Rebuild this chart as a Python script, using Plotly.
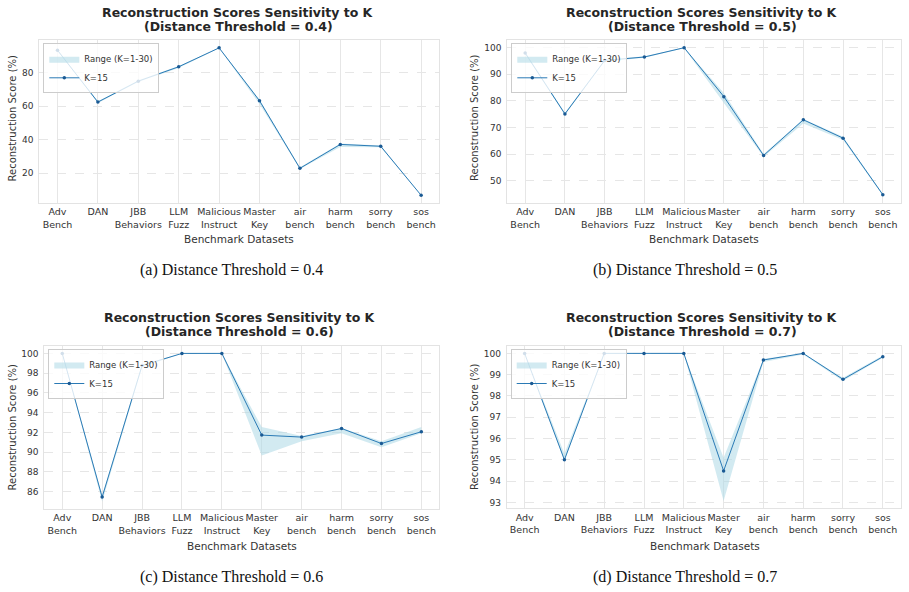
import plotly.graph_objects as go

categories = ["Adv<br>Bench", "DAN", "JBB<br>Behaviors", "LLM<br>Fuzz", "Malicious<br>Instruct",
              "Master<br>Key", "air<br>bench", "harm<br>bench", "sorry<br>bench", "sos<br>bench"]

thresholds = ["0.4", "0.5", "0.6", "0.7"]
captions = ["(a) Distance Threshold = 0.4", "(b) Distance Threshold = 0.5",
            "(c) Distance Threshold = 0.6", "(d) Distance Threshold = 0.7"]

k15_04 = [93.5, 62.5, 75.0, 83.6, 94.9, 63.3, 22.9, 37.2, 36.1, 6.8]
low_04 = [93.0, 62.0, 74.5, 82.8, 94.6, 61.3, 22.5, 35.6, 35.5, 6.6]
high_04 = [94.0, 63.0, 75.5, 84.0, 95.0, 64.0, 23.5, 37.7, 36.6, 7.0]

k15_05 = [98.0, 75.1, 95.2, 96.5, 100.0, 81.6, 59.5, 72.9, 66.0, 44.75]
low_05 = [97.5, 74.8, 94.8, 96.2, 99.8, 79.2, 59.0, 71.5, 65.3, 44.4]
high_05 = [98.5, 75.5, 95.5, 96.8, 100.0, 83.0, 60.0, 73.2, 66.5, 45.0]

k15_06 = [100.0, 85.46, 98.77, 100.0, 100.0, 91.73, 91.53, 92.40, 90.88, 92.07]
low_06 = [100.0, 85.0, 98.6, 100.0, 100.0, 89.66, 91.1, 91.93, 90.5, 91.93]
high_06 = [100.0, 85.6, 98.9, 100.0, 100.0, 92.54, 91.65, 92.45, 91.1, 92.54]

k15_07 = [100.0, 95.0, 100.0, 100.0, 100.0, 94.48, 99.69, 100.0, 98.78, 99.84]
low_07 = [100.0, 94.95, 100.0, 100.0, 100.0, 93.07, 99.6, 99.95, 98.7, 99.8]
high_07 = [100.0, 95.3, 100.0, 100.0, 100.0, 95.1, 99.75, 100.0, 98.85, 99.9]

y_dticks = [20, 10, 2, 1]

panels = [(k15_04, low_04, high_04), (k15_05, low_05, high_05),
          (k15_06, low_06, high_06), (k15_07, low_07, high_07)]

W, H = 909, 592
# plot-area pixel boxes: x0, x1, y0(top), y1(bottom)
boxes = [(39.3, 439.3, 40.3, 203.0), (507.3, 900.7, 40.3, 203.0),
         (44.3, 439.3, 346.0, 509.0), (506.7, 900.7, 346.0, 508.3)]
title_pos = [(238, 12, 26), (702, 12, 26), (240, 317, 331.5), (702, 317, 331.5)]
ytitle_pos = [(11.5, 118), (474, 118), (11.5, 427), (474, 427)]
xtitle_pos = [(239, 239.5), (704, 239.5), (241.5, 546), (704.5, 546)]
caption_pos = [(231, 270), (685, 270), (231, 577), (685, 577)]

FONT = "DejaVu Sans"
TXT = "#262626"
band_color = "rgba(173,216,230,0.55)"
line_color = "#2a7ab5"
marker_color = "#1a5a94"

fig = go.Figure()
layout = dict(width=W, height=H, margin=dict(l=0, r=0, t=0, b=0),
              paper_bgcolor="white", plot_bgcolor="white", showlegend=True,
              font=dict(family=FONT, color=TXT))
annotations = []
xs = list(range(len(categories)))

for i, (vals, lo, hi) in enumerate(panels):
    n = i + 1
    xa = "x" if n == 1 else f"x{n}"
    ya = "y" if n == 1 else f"y{n}"
    lg = "legend" if n == 1 else f"legend{n}"
    x0, x1, y0, y1 = boxes[i]
    fig.add_trace(go.Scatter(
        x=xs + xs[::-1], y=hi + lo[::-1], fill="toself", fillcolor=band_color,
        line=dict(width=0, color=band_color), mode="lines", name="Range (K=1-30)",
        xaxis=xa, yaxis=ya, legend=lg, hoverinfo="skip"))
    fig.add_trace(go.Scatter(
        x=xs, y=vals, mode="lines+markers", name="K=15",
        line=dict(color=line_color, width=1),
        marker=dict(color=marker_color, size=3.5),
        xaxis=xa, yaxis=ya, legend=lg))
    allv = vals + lo + hi
    mn, mx = min(allv), max(allv)
    pad = 0.05 * (mx - mn)
    xkey = "xaxis" if n == 1 else f"xaxis{n}"
    ykey = "yaxis" if n == 1 else f"yaxis{n}"
    layout[xkey] = dict(
        domain=[x0 / W, x1 / W], anchor=ya, range=[-0.45, len(xs) - 1 + 0.45],
        tickmode="array", tickvals=xs, ticktext=categories, tickangle=0,
        tickfont=dict(family=FONT, size=9.5, color="#333333"),
        showgrid=True, gridcolor="#e6e6e6", gridwidth=1,
        showline=True, linecolor="#e3e3e3", linewidth=1, mirror=True,
        zeroline=False, ticks="", ticklabelstandoff=0)
    layout[ykey] = dict(
        domain=[1 - y1 / H, 1 - y0 / H], anchor=xa, range=[mn - pad, mx + pad],
        dtick=y_dticks[i], tickfont=dict(family=FONT, size=9, color="#333333"),
        showgrid=True, gridcolor="#e6e6e6", gridwidth=1, griddash="dash",
        showline=True, linecolor="#e3e3e3", linewidth=1, mirror=True,
        zeroline=False, ticks="", ticklabelstandoff=3)
    layout[lg] = dict(
        x=(x0 + 4) / W, y=1 - (y0 + 3) / H, xanchor="left", yanchor="top",
        bgcolor="rgba(255,255,255,0.8)", bordercolor="#cccccc", borderwidth=1,
        font=dict(family=FONT, size=8.5, color="#333333"), tracegroupgap=0,
        itemwidth=30)
    tx, ty1, ty2 = title_pos[i]
    annotations.append(dict(
        x=tx / W, y=1 - ty1 / H, xref="paper", yref="paper", showarrow=False,
        text="<b>Reconstruction Scores Sensitivity to K</b>",
        font=dict(family=FONT, size=12.5, color=TXT), xanchor="center", yanchor="middle"))
    annotations.append(dict(
        x=tx / W, y=1 - ty2 / H, xref="paper", yref="paper", showarrow=False,
        text=f"<b>(Distance Threshold = {thresholds[i]})</b>",
        font=dict(family=FONT, size=12.5, color=TXT), xanchor="center", yanchor="middle"))
    yx, yy = ytitle_pos[i]
    annotations.append(dict(
        x=yx / W, y=1 - yy / H, xref="paper", yref="paper", showarrow=False,
        text="Reconstruction Score (%)", textangle=-90,
        font=dict(family=FONT, size=10, color="#333333"), xanchor="center", yanchor="middle"))
    xx, xy = xtitle_pos[i]
    annotations.append(dict(
        x=xx / W, y=1 - xy / H, xref="paper", yref="paper", showarrow=False,
        text="Benchmark Datasets",
        font=dict(family=FONT, size=10.5, color="#333333"), xanchor="center", yanchor="middle"))
    cx, cy = caption_pos[i]
    annotations.append(dict(
        x=cx / W, y=1 - cy / H, xref="paper", yref="paper", showarrow=False,
        text=captions[i],
        font=dict(family="Liberation Serif", size=16, color="#111111"),
        xanchor="center", yanchor="middle"))

layout["annotations"] = annotations
fig.update_layout(**layout)
fig.write_html("out.html")
